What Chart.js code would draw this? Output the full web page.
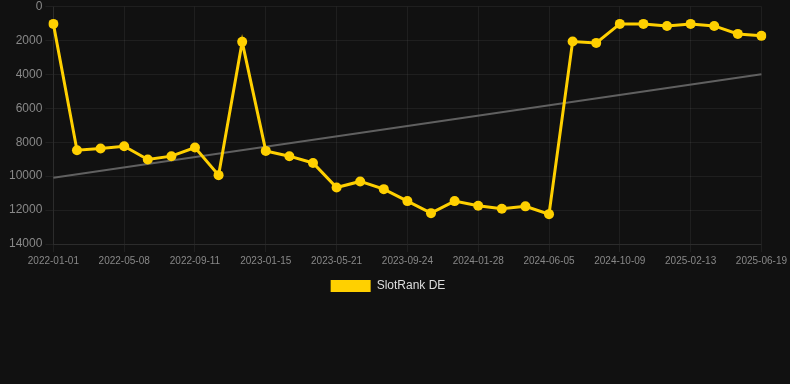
<!DOCTYPE html>
<html>
<head>
<meta charset="utf-8">
<script src="https://cdn.jsdelivr.net/npm/chart.js@4/dist/chart.umd.min.js"></script>
<style>
  html, body { margin: 0; padding: 0; background: #111111; }
  #wrap { width: 790px; height: 384px; position: relative; }
</style>
</head>
<body>
<div id="wrap"><canvas id="c" width="790" height="384"></canvas></div>
<script>
const dates = [
  "2022-01-01","2022-02-12","2022-03-26","2022-05-08","2022-06-19","2022-07-31",
  "2022-09-11","2022-10-23","2022-12-04","2023-01-15","2023-02-26","2023-04-09",
  "2023-05-21","2023-07-02","2023-08-13","2023-09-24","2023-11-05","2023-12-17",
  "2024-01-28","2024-03-10","2024-04-23","2024-06-05","2024-07-17","2024-08-28",
  "2024-10-09","2024-11-20","2025-01-01","2025-02-13","2025-03-27","2025-05-08",
  "2025-06-19"
];
const slotRankDE = [
  1020, 8470, 8370, 8235, 9020, 8820, 8310, 9940, 2080, 8510, 8820, 9220,
  10670, 10310, 10765, 11470, 12180, 11470, 11745, 11920, 11780, 12240,
  2060, 2140, 1020, 1020, 1140, 1020, 1140, 1610, 1725
];
const yTicks = [0, 2000, 4000, 6000, 8000, 10000, 12000, 14000];
const seriesName = "SlotRank DE";

// least-squares trend line derived from the series
const n = slotRankDE.length;
const mx = (n - 1) / 2;
const my = slotRankDE.reduce((a, b) => a + b, 0) / n;
let sxy = 0, sxx = 0;
slotRankDE.forEach((v, i) => { sxy += (i - mx) * (v - my); sxx += (i - mx) * (i - mx); });
const slope = sxy / sxx;
const trend = slotRankDE.map((v, i) => (i === 0 || i === n - 1) ? my + slope * (i - mx) : null);

const gridCol = 'rgba(255,255,255,0.06)';
const yellow = '#FFD000';
Chart.defaults.font.family = '"Liberation Sans", Arial, sans-serif';

const legendShift = {
  id: 'legendShift',
  afterLayout(chart) {
    if (chart.legend) { chart.legend.left -= 8; chart.legend.right -= 8; }
  }
};

new Chart(document.getElementById('c'), {
  type: 'line',
  plugins: [legendShift],
  data: {
    labels: dates,
    datasets: [
      {
        label: seriesName,
        data: slotRankDE,
        borderColor: yellow,
        backgroundColor: yellow,
        borderWidth: 3,
        pointRadius: 5,
        pointBorderWidth: 0,
        pointHoverRadius: 5,
        pointBackgroundColor: yellow,
        pointBorderColor: yellow,
        tension: 0,
        order: 1
      },
      {
        label: 'trend',
        data: trend,
        borderColor: '#606060',
        borderWidth: 2,
        pointRadius: 0,
        spanGaps: true,
        order: 2
      }
    ]
  },
  options: {
    responsive: false,
    animation: false,
    layout: { padding: { top: 0, right: 4, bottom: 82, left: 6 } },
    plugins: {
      legend: {
        position: 'bottom',
        labels: {
          color: '#dddddd',
          font: { size: 12 },
          boxWidth: 40,
          boxHeight: 12,
          generateLabels: (chart) => [{
            text: seriesName,
            fillStyle: yellow,
            strokeStyle: yellow,
            lineWidth: 0,
            fontColor: '#dddddd',
            datasetIndex: 0,
            hidden: false
          }]
        }
      },
      tooltip: { enabled: false }
    },
    scales: {
      x: {
        offset: false,
        grid: {
          color: (ctx) => (ctx.index % 3 === 0 ? gridCol : 'transparent'),
          tickColor: (ctx) => (ctx.index % 3 === 0 ? gridCol : 'transparent')
        },
        border: { color: gridCol },
        ticks: {
          autoSkip: false,
          maxRotation: 0,
          color: '#888888',
          font: { size: 10 },
          callback: function (value, index) { return index % 3 === 0 ? this.getLabelForValue(value) : ''; }
        }
      },
      y: {
        reverse: true,
        min: 0,
        max: 14000,
        afterBuildTicks: (axis) => { axis.ticks = yTicks.map(v => ({ value: v })); },
        grid: { color: gridCol, tickColor: gridCol },
        border: { color: gridCol },
        ticks: { color: '#888888', font: { size: 12, lineHeight: 0.6 }, callback: (v) => String(v) }
      }
    }
  }
});
</script>
</body>
</html>
